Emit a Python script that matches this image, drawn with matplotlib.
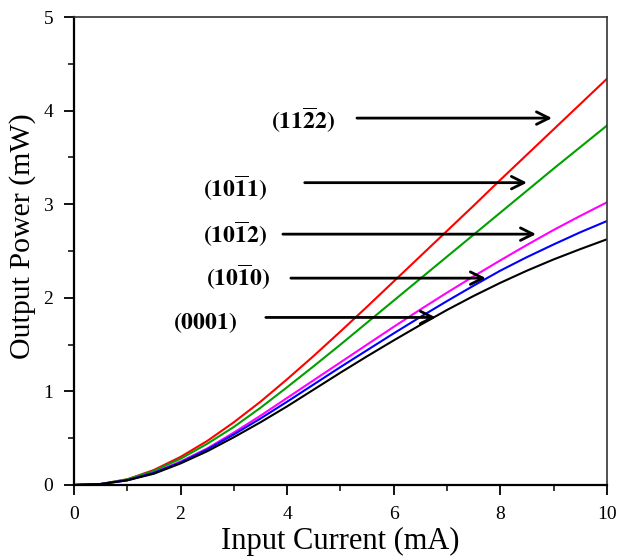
import matplotlib
matplotlib.use("Agg")
import matplotlib.pyplot as plt
from matplotlib.ticker import MultipleLocator

current = [0, 0.5, 1, 1.5, 2, 2.5, 3, 3.5, 4, 4.5, 5, 5.5, 6, 6.5, 7, 7.5, 8, 8.5, 9, 9.5, 10]
p_1122 = [0, 0.01, 0.06, 0.16, 0.30, 0.47, 0.67, 0.89, 1.13, 1.38, 1.64, 1.905, 2.175, 2.445, 2.715, 2.985, 3.26, 3.53, 3.80, 4.07, 4.34]
p_1011 = [0, 0.01, 0.06, 0.15, 0.28, 0.44, 0.62, 0.825, 1.045, 1.27, 1.50, 1.735, 1.97, 2.205, 2.44, 2.675, 2.91, 3.145, 3.38, 3.61, 3.84]
p_1012 = [0, 0.01, 0.05, 0.13, 0.25, 0.39, 0.56, 0.74, 0.93, 1.12, 1.31, 1.50, 1.69, 1.875, 2.055, 2.23, 2.40, 2.565, 2.725, 2.875, 3.02]
p_1010 = [0, 0.01, 0.05, 0.13, 0.24, 0.38, 0.54, 0.71, 0.89, 1.075, 1.26, 1.44, 1.62, 1.795, 1.965, 2.13, 2.29, 2.435, 2.57, 2.70, 2.82]
p_0001 = [0, 0.01, 0.05, 0.12, 0.23, 0.36, 0.51, 0.67, 0.84, 1.02, 1.20, 1.375, 1.545, 1.71, 1.87, 2.02, 2.16, 2.29, 2.41, 2.52, 2.625]

series = [p_1122, p_1011, p_1012, p_1010, p_0001]
colors = ["#ff0000", "#00a000", "#ff00ff", "#0000ff", "#000000"]

labels = [r"$\mathbf{(11\overline{2}2)}$", r"$\mathbf{(10\overline{1}1)}$",
          r"$\mathbf{(10\overline{1}2)}$", r"$\mathbf{(10\overline{1}0)}$",
          r"$\mathbf{(0001)}$"]
label_x = [4.30, 3.02, 3.02, 3.08, 2.46]
label_y = [3.90, 3.17, 2.68, 2.22, 1.74]
arrow_x0 = [5.31, 4.33, 3.92, 4.07, 3.60]
arrow_x1 = [8.97, 8.50, 8.67, 7.73, 6.79]
arrow_y = [3.92, 3.23, 2.68, 2.21, 1.79]

plt.rcParams["mathtext.fontset"] = "stix"
plt.rcParams["font.family"] = "Liberation Serif"

fig = plt.figure(figsize=(6.19, 5.6), dpi=100)
ax = fig.add_axes([0.1195, 0.134, 0.861, 0.8356])

for s, c in zip(series, colors):
    ax.plot(current, s, color=c, lw=1.5, solid_joinstyle="round")

for t, tx, ty, x0, x1, ay in zip(labels, label_x, label_y, arrow_x0, arrow_x1, arrow_y):
    ax.text(tx, ty, t, fontsize=17, ha="center", va="center")
    ax.annotate("", xy=(x1, ay), xytext=(x0, ay),
                arrowprops=dict(arrowstyle="->,head_length=0.9,head_width=0.45",
                                lw=2, color="black", shrinkA=0, shrinkB=0))

ax.set_xlim(0, 10)
ax.set_ylim(0, 5)
ax.xaxis.set_major_locator(MultipleLocator(2))
ax.xaxis.set_minor_locator(MultipleLocator(1))
ax.yaxis.set_major_locator(MultipleLocator(1))
ax.yaxis.set_minor_locator(MultipleLocator(0.5))
ax.tick_params(which="major", direction="out", length=7, width=1.3, labelsize=14, pad=8)
ax.tick_params(which="minor", direction="out", length=4, width=1.1)
ax.tick_params(top=False, right=False)

for side in ["left", "bottom"]:
    ax.spines[side].set_linewidth(1.6)
    ax.spines[side].set_color("black")
for side in ["top", "right"]:
    ax.spines[side].set_linewidth(1.2)
    ax.spines[side].set_color("#333333")

ax.set_xlabel("Input Current (mA)", fontsize=22, labelpad=3)
ax.set_ylabel("Output Power (mW)", fontsize=21.5)
ax.yaxis.set_label_coords(-0.072, 0.532)

fig.savefig("out.png", dpi=100)
